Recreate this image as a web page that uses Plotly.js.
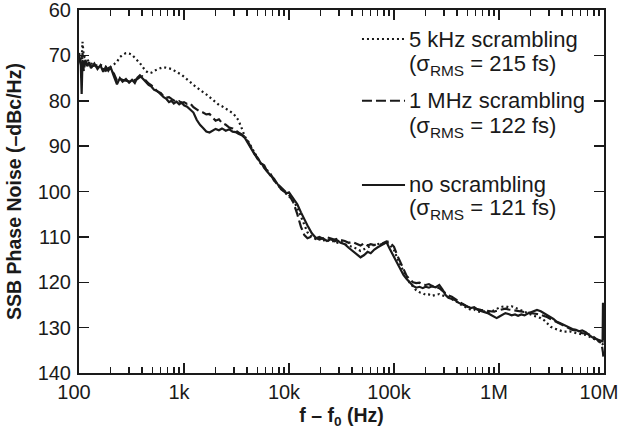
<!DOCTYPE html>
<html>
<head>
<meta charset="utf-8">
<script src="https://cdn.plot.ly/plotly-3.0.1.min.js"></script>
<style>html,body{margin:0;padding:0;background:#fff;}#chart{width:619px;height:438px;}</style>
</head>
<body>
<div id="chart"></div>
<script>
// Offset frequency f - f0 (Hz)
const freqHz = [
  100,104,106,108,111,115,120,125,130,140,150,160,170,180,190,200,215,230,245,260,280,300,320,340,360,380,400,430,460,490,520,560,600,640,680,720,760,800,850,900,950,
  1000,1070,1150,1230,1320,1420,1520,1630,1750,1880,2000,2150,2300,2500,2700,2900,3100,3300,3550,3800,4100,4400,4700,5000,5400,5800,6200,6700,7200,7800,8400,9000,9500,
  10000,11000,12000,13000,14000,15000,16500,18000,19500,21000,23000,25000,27000,29000,31000,34000,37000,40000,44000,48000,52000,56000,60000,65000,70000,75000,80000,85000,90000,95000,
  100000,107000,115000,123000,132000,142000,152000,163000,175000,188000,200000,215000,230000,250000,270000,290000,310000,330000,355000,380000,410000,440000,470000,500000,540000,580000,620000,670000,720000,780000,840000,900000,950000,
  1e6,1.07e6,1.15e6,1.23e6,1.32e6,1.42e6,1.52e6,1.63e6,1.75e6,1.88e6,2e6,2.15e6,2.3e6,2.5e6,2.7e6,2.9e6,3.1e6,3.3e6,3.55e6,3.8e6,4.1e6,4.4e6,4.7e6,5e6,5.4e6,5.8e6,6.2e6,6.7e6,7.2e6,7.8e6,8.4e6,9e6,9.5e6,9.7e6,9.78e6,9.9e6
];

// SSB phase noise (-dBc/Hz)
const noScrambling = [
  70.5,72.0,78.5,71.0,72.5,71.0,72.4,71.5,72.8,71.8,73.0,72.2,73.6,72.6,73.4,72.6,74.6,76.4,75.0,75.8,75.2,76.0,75.4,76.1,74.9,74.4,75.0,75.8,76.5,76.9,77.6,77.9,78.6,79.2,79.6,80.3,80.0,80.6,80.2,80.8,80.4,
  81.0,81.3,81.9,82.6,84.2,85.3,86.0,86.8,87.0,86.5,86.2,86.5,86.1,86.6,86.3,86.8,86.9,87.3,87.6,88.2,89.5,90.9,91.8,92.5,93.8,94.2,95.6,96.5,97.2,98.4,99.5,100.0,100.4,
  100.2,101.5,102.8,104.6,106.3,107.5,109.2,110.2,110.6,110.3,110.9,110.5,111.0,110.8,111.3,111.6,112.4,113.0,113.8,114.5,114.0,113.3,113.6,112.8,112.3,111.9,111.5,111.2,112.4,113.4,
  114.3,115.8,117.2,118.4,119.3,120.0,120.8,121.2,121.0,121.3,121.0,121.2,120.9,121.1,120.6,121.6,122.8,123.4,123.6,123.9,124.5,124.8,125.1,125.4,125.7,125.5,126.0,126.3,126.5,126.8,127.2,127.6,127.9,
  127.6,127.2,126.8,127.0,127.3,127.1,127.4,127.1,127.3,126.9,126.6,126.3,126.1,126.4,126.8,127.3,127.7,128.1,128.7,129.0,129.4,129.8,130.0,130.3,130.5,130.8,130.6,131.0,131.6,132.2,132.5,132.7,132.9,133.0,124.5,132.8
];
const scrambling1MHz = [
  70.0,71.5,75.0,69.5,73.5,71.3,72.0,71.8,72.5,72.2,72.6,72.8,73.0,73.4,72.8,73.2,74.0,75.6,75.2,75.4,75.6,75.8,75.9,75.4,75.2,74.8,74.6,75.5,76.2,76.6,77.2,78.0,78.3,79.0,79.3,79.2,79.6,79.9,80.3,80.1,80.5,
  80.3,80.7,80.6,81.4,81.9,82.4,82.6,83.0,82.9,83.6,84.4,84.1,84.9,85.3,85.9,86.1,86.6,87.0,87.4,88.0,89.2,90.5,91.4,92.8,93.4,94.8,95.6,96.2,97.6,98.4,99.2,99.8,100.3,
  100.7,102.4,105.0,107.8,109.6,110.3,109.9,110.3,110.0,110.4,110.1,110.3,110.6,110.4,110.7,110.9,111.3,111.1,111.6,111.9,111.4,111.9,111.6,111.8,111.5,111.7,111.3,111.0,111.1,111.6,
  112.2,114.0,115.6,117.1,118.6,119.4,120.0,120.2,120.1,120.5,120.6,120.4,120.8,121.0,121.3,121.9,122.4,122.9,123.2,123.6,124.0,124.6,125.0,125.4,125.6,125.8,125.9,126.1,126.2,126.3,126.4,126.5,126.3,
  126.2,126.0,125.8,126.0,126.1,126.2,126.3,126.5,126.6,126.7,126.8,126.9,127.0,127.2,127.4,127.7,128.1,128.4,128.8,129.1,129.6,129.9,130.2,130.5,130.6,130.9,131.2,131.3,131.5,131.9,132.4,133.0,133.6,134.5,135.5,137.0
];
const scrambling5kHz = [
  69.5,70.5,71.0,67.0,70.2,70.5,71.0,71.4,71.8,72.0,72.3,72.1,72.4,72.5,72.7,72.5,72.0,71.4,70.4,69.9,69.5,69.6,69.9,70.5,71.0,71.7,72.4,73.4,73.9,73.8,73.4,73.0,72.8,72.6,72.7,72.8,73.0,73.3,73.6,73.9,74.3,
  74.7,75.2,75.9,76.5,77.1,77.6,78.1,78.6,79.2,79.9,80.3,80.9,81.2,81.7,82.3,82.7,83.4,84.3,86.1,87.9,89.0,90.2,91.6,92.4,93.9,94.6,95.3,96.6,97.3,98.7,99.2,100.1,100.6,
  100.9,102.0,103.6,105.4,107.4,109.0,110.0,110.5,110.2,110.8,110.6,111.1,110.8,111.3,111.0,111.6,111.9,112.2,112.6,113.1,112.7,112.3,112.0,111.8,111.6,111.4,111.5,111.2,111.6,112.2,
  112.9,114.6,116.2,117.8,119.1,120.2,121.0,121.8,122.2,122.4,122.8,122.7,123.0,122.8,122.6,122.9,123.1,123.3,123.7,124.0,124.5,125.0,125.4,125.7,126.1,126.0,126.4,126.6,126.4,126.7,126.5,126.2,125.9,
  125.6,125.4,125.3,125.5,125.3,125.6,125.9,126.2,126.5,126.9,127.2,127.4,127.6,127.9,128.4,129.1,129.8,130.1,130.4,130.6,130.9,130.9,130.8,131.0,131.2,131.4,131.5,131.6,131.9,132.3,132.7,133.1,133.4,133.6,133.8,134.0
];

const xTickVals = [100, 1000, 10000, 100000, 1000000, 10000000];
const xTickText = ['100', '1k', '10k', '100k', '1M', '10M'];
const yTickVals = [60, 70, 80, 90, 100, 110, 120, 130, 140];

const seriesNames = ['5 kHz scrambling', '1 MHz scrambling', 'no scrambling'];
const seriesSigmas = ['(σ<sub>RMS</sub> = 215 fs)', '(σ<sub>RMS</sub> = 122 fs)', '(σ<sub>RMS</sub> = 121 fs)'];

const INK = '#1a1a1a';
const FONT = 'Liberation Sans, Arial, Helvetica, sans-serif';
const dashes = ['2px,3px', '10px,4px', 'solid'];
const seriesValues = [scrambling5kHz, scrambling1MHz, noScrambling];

// minor tick positions (2..9 in each decade)
const minorTicks = [];
for (let d = 100; d < 1e7; d *= 10) for (let m = 2; m <= 9; m++) minorTicks.push(d * m);

const traces = seriesValues.map((vals, i) => ({
  type: 'scatter', mode: 'lines', x: freqHz, y: vals, name: seriesNames[i],
  line: {color: INK, width: 2.2, dash: dashes[i]}, showlegend: false, hoverinfo: 'skip'
}));

// legend (drawn manually, as in the reference)
const legY1 = [0.9200, 0.7500, 0.5180];
const legY2 = [0.8490, 0.6790, 0.4530];
const shapes = [];
const annotations = [];
for (let i = 0; i < 3; i++) {
  shapes.push({type: 'line', xref: 'paper', yref: 'paper', x0: 0.539, x1: 0.621, y0: legY1[i], y1: legY1[i],
    line: {color: INK, width: 2, dash: dashes[i]}});
  annotations.push({xref: 'paper', yref: 'paper', x: 0.6255, y: legY1[i], xanchor: 'left', yanchor: 'middle',
    text: seriesNames[i], showarrow: false, font: {family: FONT, size: 22, color: INK}});
  annotations.push({xref: 'paper', yref: 'paper', x: 0.6255, y: legY2[i], xanchor: 'left', yanchor: 'middle',
    text: seriesSigmas[i], showarrow: false, font: {family: FONT, size: 22, color: INK}});
}

const layout = {
  width: 619, height: 438,
  margin: {l: 79, r: 15, t: 10, b: 65},
  paper_bgcolor: '#fff', plot_bgcolor: '#fff',
  font: {family: FONT, color: INK, size: 20},
  showlegend: false,
  xaxis: {
    type: 'log', range: [2, 7], tickmode: 'array', tickvals: xTickVals, ticktext: xTickText,
    ticks: 'inside', ticklen: 10, tickwidth: 1.5, tickcolor: INK,
    showline: true, linecolor: INK, linewidth: 2, mirror: 'ticks',
    showgrid: false, zeroline: false,
    tickfont: {family: FONT, size: 20, color: INK},
    ticklabelshift: -5, ticklabelstandoff: 0, ticklabeloverflow: 'allow',
    minor: {tickmode: 'array', tickvals: minorTicks, ticks: 'inside', ticklen: 6, tickwidth: 1.5, tickcolor: INK, showgrid: false},
    title: {text: 'f – f<sub>0</sub> (Hz)', font: {family: FONT, size: 19.5, color: INK, weight: 'bold'}, standoff: 6},
    automargin: false
  },
  yaxis: {
    range: [140, 60], tickmode: 'array', tickvals: yTickVals,
    ticks: 'inside', ticklen: 10, tickwidth: 1.5, tickcolor: INK,
    showline: true, linecolor: INK, linewidth: 2, mirror: 'ticks',
    showgrid: false, zeroline: false,
    tickfont: {family: FONT, size: 20, color: INK},
    ticklabelstandoff: 2, ticklabeloverflow: 'allow',
    title: {text: 'SSB Phase Noise (–dBc/Hz)', font: {family: FONT, size: 19.5, color: INK, weight: 'bold'}, standoff: 11},
    automargin: false
  },
  shapes: shapes,
  annotations: annotations
};

Plotly.newPlot('chart', traces, layout, {displayModeBar: false, staticPlot: true});
</script>
</body>
</html>
